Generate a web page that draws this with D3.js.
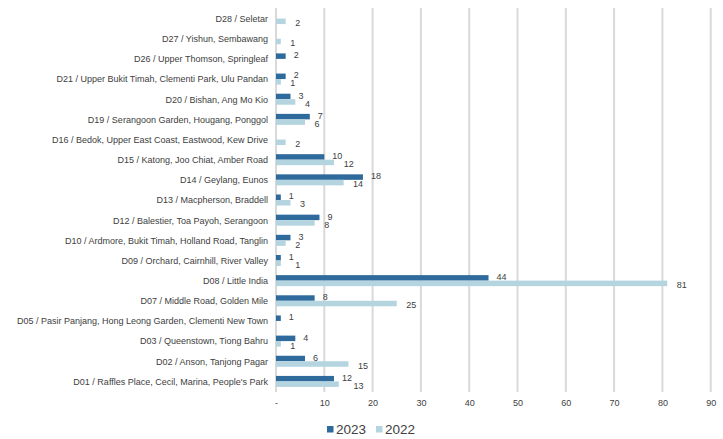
<!DOCTYPE html>
<html>
<head>
<meta charset="utf-8">
<script src="https://cdn.jsdelivr.net/npm/d3@7"></script>
<style>
  body { margin: 0; background: #fff; }
  text { font-family: "Liberation Sans", Arial, sans-serif; fill: #404040; }
</style>
</head>
<body>
<svg id="chart" width="723" height="439"></svg>
<script>
// districts, top to bottom as drawn
const districts = [
  "D28 / Seletar",
  "D27 / Yishun, Sembawang",
  "D26 / Upper Thomson, Springleaf",
  "D21 / Upper Bukit Timah, Clementi Park, Ulu Pandan",
  "D20 / Bishan, Ang Mo Kio",
  "D19 / Serangoon Garden, Hougang, Ponggol",
  "D16 / Bedok, Upper East Coast, Eastwood, Kew Drive",
  "D15 / Katong, Joo Chiat, Amber Road",
  "D14 / Geylang, Eunos",
  "D13 / Macpherson, Braddell",
  "D12 / Balestier, Toa Payoh, Serangoon",
  "D10 / Ardmore, Bukit Timah, Holland Road, Tanglin",
  "D09 / Orchard, Cairnhill, River Valley",
  "D08 / Little India",
  "D07 / Middle Road, Golden Mile",
  "D05 / Pasir Panjang, Hong Leong Garden, Clementi New Town",
  "D03 / Queenstown, Tiong Bahru",
  "D02 / Anson, Tanjong Pagar",
  "D01 / Raffles Place, Cecil, Marina, People's Park"
];
const values2023 = [null, null, 2, 2, 3, 7, null, 10, 18, 1, 9, 3, 1, 44, 8, 1, 4, 6, 12];
const values2022 = [2, 1, null, 1, 4, 6, 2, 12, 14, 3, 8, 2, 1, 81, 25, null, 1, 15, 13];
const seriesNames = ["2023", "2022"];
const seriesColors = ["#2e6a9b", "#b4d4e0"];
const xTicks = [0, 10, 20, 30, 40, 50, 60, 70, 80, 90];

const svg = d3.select("#chart");
const plot = { left: 276, right: 710.7, top: 9, bottom: 392 };

const x = d3.scaleLinear().domain([0, 90]).range([plot.left, plot.right]);
const y = d3.scaleBand().domain(districts).range([plot.top, plot.bottom]);
const inner = d3.scaleBand().domain(seriesNames)
  .range([y.bandwidth() / 2 - 6, y.bandwidth() / 2 + 5]);

// gridlines
svg.append("g").selectAll("line").data(xTicks).join("line")
  .attr("x1", d => x(d)).attr("x2", d => x(d))
  .attr("y1", plot.top - 1).attr("y2", plot.bottom)
  .attr("stroke", "#d9d9d9").attr("stroke-width", 2);

// x axis labels
const xAxis = svg.append("g")
  .attr("transform", `translate(0,${plot.bottom})`)
  .call(d3.axisBottom(x).tickValues(xTicks).tickSize(0).tickPadding(8)
    .tickFormat(d => d === 0 ? "-" : d));
xAxis.select(".domain").remove();
xAxis.selectAll("text").style("font-size", "9px")
  .style("font-family", "'Liberation Sans', Arial, sans-serif").attr("fill", "#404040");

// category labels
const yAxis = svg.append("g")
  .attr("transform", `translate(${plot.left - 8},0)`)
  .call(d3.axisLeft(y).tickSize(0).tickPadding(0));
yAxis.select(".domain").remove();
yAxis.selectAll("text").style("font-size", "9px")
  .style("font-family", "'Liberation Sans', Arial, sans-serif").attr("fill", "#404040");

// bars + labels
const rows = [];
districts.forEach((d, i) => {
  rows.push({ district: d, series: "2023", value: values2023[i], color: seriesColors[0], offset: 8, nudge: -1 });
  rows.push({ district: d, series: "2022", value: values2022[i], color: seriesColors[1], offset: 9.5, nudge: 1.5 });
});
const present = rows.filter(r => r.value !== null);

svg.append("g").selectAll("rect").data(present).join("rect")
  .attr("x", x(0))
  .attr("y", r => y(r.district) + inner(r.series))
  .attr("width", r => x(r.value) - x(0))
  .attr("height", inner.bandwidth())
  .attr("fill", r => r.color);

const labels = svg.append("g").selectAll("text").data(present).join("text")
  .attr("x", r => x(r.value) + r.offset)
  .attr("y", r => y(r.district) + inner(r.series) + inner.bandwidth() / 2 + r.nudge)
  .attr("dy", "0.35em")
  .style("font-size", "9px")
  .text(r => r.value);

// like Excel: a 2022 label that is not shorter gets pushed past the 2023 label
const ends = {};
labels.filter(r => r.series === "2023").each(function (r) {
  ends[r.district] = { end: x(r.value) + r.offset + this.getComputedTextLength(), value: r.value };
});
labels.filter(r => r.series === "2022").each(function (r) {
  const other = ends[r.district];
  if (other && r.value >= other.value) {
    const xPos = Math.max(x(r.value) + r.offset, other.end + 1.5);
    d3.select(this).attr("x", xPos);
  }
});

// legend
const legend = svg.append("g").attr("transform", "translate(327,429)");
const legendX = [0, 49];
seriesNames.forEach((s, i) => {
  legend.append("rect").attr("x", legendX[i]).attr("y", -3).attr("width", 6.5).attr("height", 6.5)
    .attr("fill", seriesColors[i]);
  legend.append("text").attr("x", legendX[i] + 9).attr("y", 0).attr("dy", "0.36em")
    .style("font-size", "13.5px").attr("fill", "#262626").text(s);
});
</script>
</body>
</html>
